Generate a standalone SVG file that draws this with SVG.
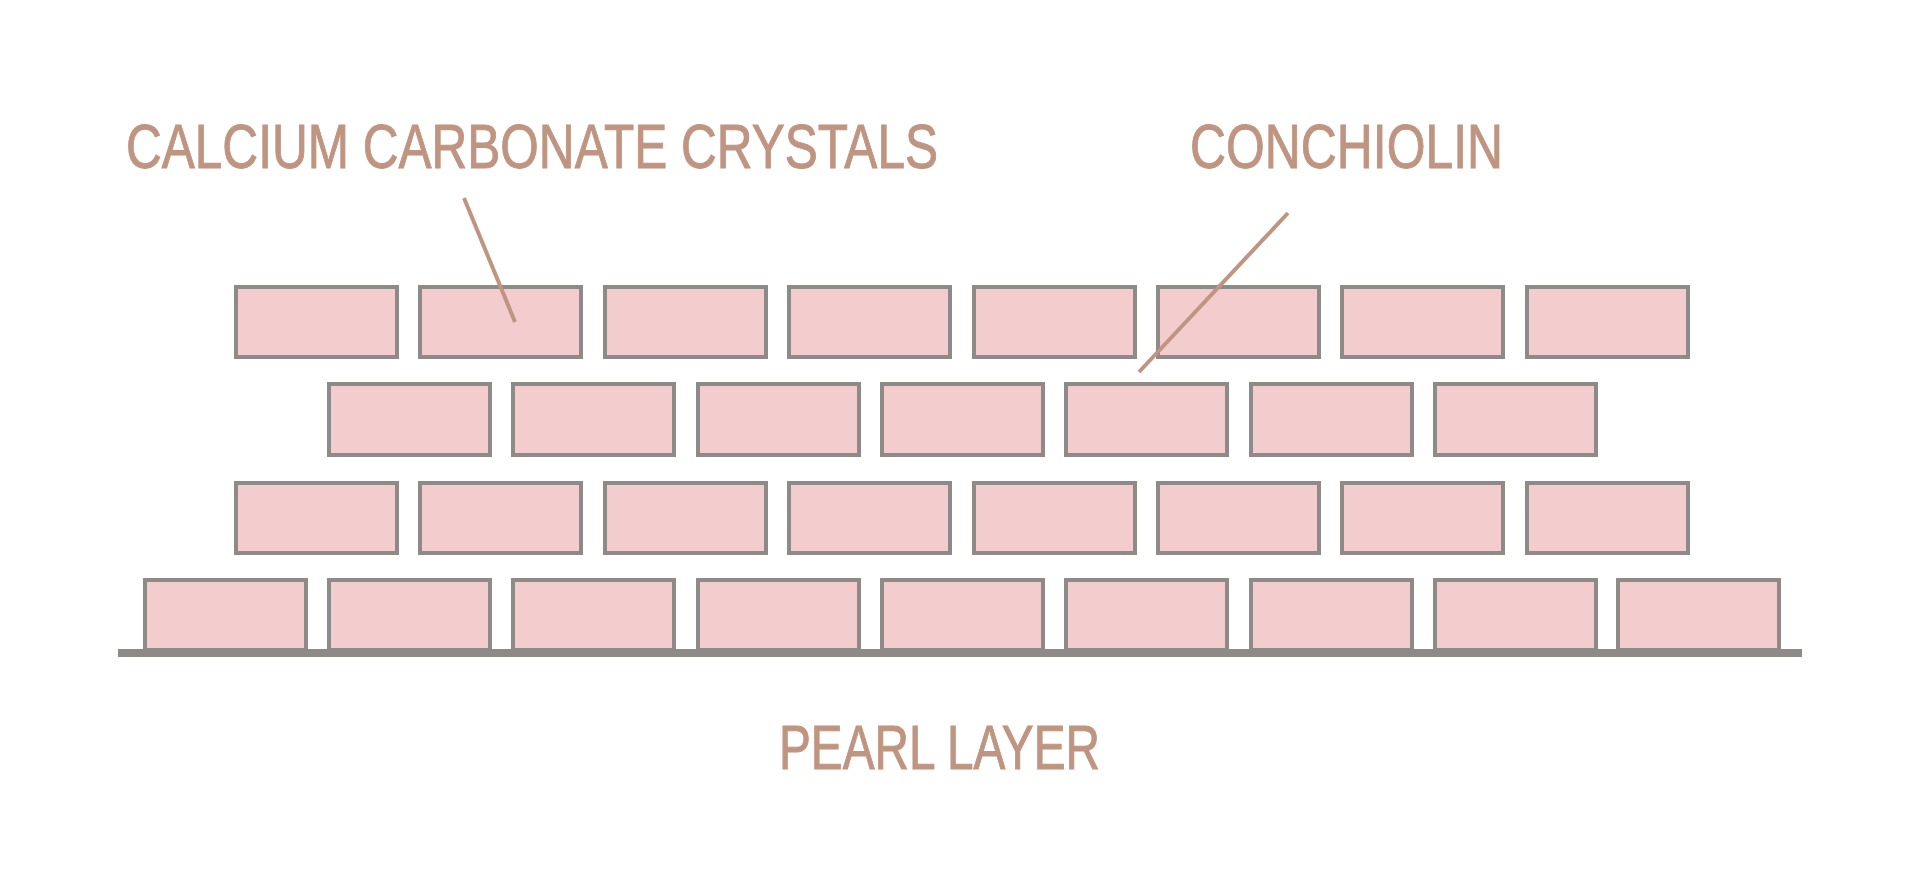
<svg xmlns="http://www.w3.org/2000/svg" width="1920" height="896" viewBox="0 0 1920 896">
<defs>
<style>
.brick{fill:#f3cdcd;stroke:#8e8a88;stroke-width:4}
.lbl{font-family:"Liberation Sans",Arial,sans-serif;font-size:63px;fill:#bf9581;stroke:#bf9581;stroke-width:1}
.lead{stroke:#bf9581;stroke-width:4;fill:none}
</style>
</defs>
<rect width="1920" height="896" fill="#ffffff"/>
<g id="base"><rect x="118" y="649" width="1684" height="8" fill="#8e8a88"/></g>
<g id="row1">
<rect class="brick" x="236" y="287" width="161" height="70"/>
<rect class="brick" x="420" y="287" width="161" height="70"/>
<rect class="brick" x="605" y="287" width="161" height="70"/>
<rect class="brick" x="789" y="287" width="161" height="70"/>
<rect class="brick" x="974" y="287" width="161" height="70"/>
<rect class="brick" x="1158" y="287" width="161" height="70"/>
<rect class="brick" x="1342" y="287" width="161" height="70"/>
<rect class="brick" x="1527" y="287" width="161" height="70"/>
</g>
<g id="row2">
<rect class="brick" x="329" y="384" width="161" height="71"/>
<rect class="brick" x="513" y="384" width="161" height="71"/>
<rect class="brick" x="698" y="384" width="161" height="71"/>
<rect class="brick" x="882" y="384" width="161" height="71"/>
<rect class="brick" x="1066" y="384" width="161" height="71"/>
<rect class="brick" x="1251" y="384" width="161" height="71"/>
<rect class="brick" x="1435" y="384" width="161" height="71"/>
</g>
<g id="row3">
<rect class="brick" x="236" y="483" width="161" height="70"/>
<rect class="brick" x="420" y="483" width="161" height="70"/>
<rect class="brick" x="605" y="483" width="161" height="70"/>
<rect class="brick" x="789" y="483" width="161" height="70"/>
<rect class="brick" x="974" y="483" width="161" height="70"/>
<rect class="brick" x="1158" y="483" width="161" height="70"/>
<rect class="brick" x="1342" y="483" width="161" height="70"/>
<rect class="brick" x="1527" y="483" width="161" height="70"/>
</g>
<g id="row4">
<rect class="brick" x="145" y="580" width="161" height="70"/>
<rect class="brick" x="329" y="580" width="161" height="70"/>
<rect class="brick" x="513" y="580" width="161" height="70"/>
<rect class="brick" x="698" y="580" width="161" height="70"/>
<rect class="brick" x="882" y="580" width="161" height="70"/>
<rect class="brick" x="1066" y="580" width="161" height="70"/>
<rect class="brick" x="1251" y="580" width="161" height="70"/>
<rect class="brick" x="1435" y="580" width="161" height="70"/>
<rect class="brick" x="1618" y="580" width="161" height="70"/>
</g>
<g id="connectors">
<line class="lead" x1="464" y1="198" x2="515" y2="322"/>
<line class="lead" x1="1288" y1="213" x2="1139" y2="372"/>
</g>
<g id="label-calcium"><text class="lbl" x="126" y="168" textLength="812" lengthAdjust="spacingAndGlyphs">CALCIUM CARBONATE CRYSTALS</text></g>
<g id="label-conchiolin"><text class="lbl" x="1190" y="168" textLength="313" lengthAdjust="spacingAndGlyphs">CONCHIOLIN</text></g>
<g id="label-pearl"><text class="lbl" x="779" y="769" textLength="321" lengthAdjust="spacingAndGlyphs">PEARL LAYER</text></g>
</svg>
